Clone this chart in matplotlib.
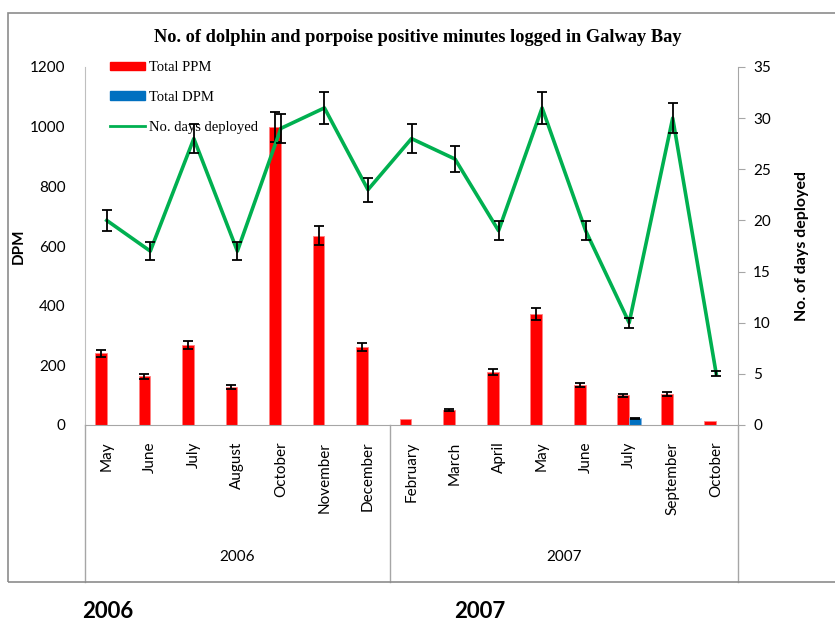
import numpy as np
import matplotlib.pyplot as plt
import matplotlib.transforms as mtransforms
from matplotlib.patches import Patch, Rectangle
from matplotlib.lines import Line2D

months = ["May", "June", "July", "August", "October", "November", "December",
          "February", "March", "April", "May", "June", "July", "September", "October"]
years = ["2006", "2007"]
year_sizes = [7, 8]

total_ppm = [240, 164, 268, 127, 1000, 635, 262, 20, 50, 178, 372, 135, 100, 104, 14]
total_dpm = [0, 0, 0, 0, 0, 0, 0, 0, 0, 0, 0, 0, 22, 0, 0]
days_deployed = [20, 17, 28, 17, 29, 31, 23, 28, 26, 19, 31, 19, 10, 30, 5]
err_pct = 0.05  # percentage error bars, as in the spreadsheet

ppm = np.array(total_ppm)
dpm = np.array(total_dpm)
days = np.array(days_deployed)
x = np.arange(len(months))

SANS = ["Lato", "DejaVu Sans"]
SERIF = ["Liberation Serif", "DejaVu Serif"]
RED = "#FF0000"
BLUE = "#0070C0"
GREEN = "#00B050"
GRID_GREY = "#A6A6A6"
ERR_KW = dict(fmt="none", ecolor="black", elinewidth=1.3, capsize=3.5, capthick=1.3)

W, H = 835, 624
fig = plt.figure(figsize=(W / 100, H / 100), dpi=100)

# plot area in pixels: left 85, right 738, top 67, bottom 425
ax = fig.add_axes([85 / W, 1 - 425 / H, (738 - 85) / W, (425 - 67) / H])
ax2 = ax.twinx()

bw = 0.27
ax.bar(x - bw / 2, ppm, bw, color=RED, edgecolor="#FF8080", linewidth=0.6)
ax.bar(x + bw / 2, dpm, bw, color=BLUE, edgecolor="#80B0E0", linewidth=0.6)
# error bars too small to see on the tiniest bars are left out
m = ppm >= 30
ax.errorbar(x[m] - bw / 2, ppm[m], yerr=ppm[m] * err_pct, **ERR_KW)
m = dpm > 0
ax.errorbar(x[m] + bw / 2, dpm[m], yerr=dpm[m] * err_pct, **ERR_KW)

ax2.plot(x, days, color=GREEN, linewidth=2.6, zorder=3)
ax2.errorbar(x, days, yerr=days * err_pct, zorder=4, **ERR_KW)

ax.set_xlim(-0.5, len(months) - 0.5)
ax.set_ylim(0, 1200)
ax.set_yticks(np.arange(0, 1201, 200))
ax2.set_ylim(0, 35)
ax2.set_yticks(np.arange(0, 36, 5))

for a in (ax, ax2):
    a.spines["top"].set_visible(False)
ax.spines["left"].set_color("#BFBFBF")
ax.spines["right"].set_visible(False)
ax.spines["bottom"].set_color(GRID_GREY)
ax2.spines["left"].set_visible(False)
ax2.spines["bottom"].set_visible(False)
ax2.spines["right"].set_color(GRID_GREY)

ax.tick_params(axis="y", length=0, pad=14, labelsize=11)
ax2.tick_params(axis="y", length=5, color=GRID_GREY, direction="out", pad=6, labelsize=11)
ax.set_xticks(x)
ax.set_xticklabels(months, rotation=90, fontsize=11, family=SANS)
ax.tick_params(axis="x", length=0, pad=12)
for lab in ax.get_yticklabels() + ax2.get_yticklabels():
    lab.set_family(SANS)

ax.set_ylabel("DPM", fontsize=11, fontweight="bold", family=SANS, labelpad=3)
ax2.set_ylabel("No. of days deployed", fontsize=11.5, fontweight="bold", family=SANS, labelpad=17)

# multi-level category axis: group separators and year labels
trans = mtransforms.blended_transform_factory(ax.transData, ax.transAxes)
bottom_y = -(582 - 425) / (425 - 67)
edges = np.concatenate([[0], np.cumsum(year_sizes)]) - 0.5
for e in edges:
    ax.plot([e, e], [0, bottom_y], transform=trans, color=GRID_GREY, linewidth=1, clip_on=False)
for i, yr in enumerate(years):
    cx = (edges[i] + edges[i + 1]) / 2
    ax.text(cx, -(557 - 425) / (425 - 67), yr, transform=trans, ha="center", va="center",
            fontsize=11, family=SANS)

# outer chart border
fig.patches.append(Rectangle((8 / W, 1 - 582 / H), 1.2, (582 - 13) / H, transform=fig.transFigure,
                             facecolor="none", edgecolor="#8C8C8C", linewidth=1.2))

fig.text(418 / W, 1 - 37 / H, "No. of dolphin and porpoise positive minutes logged in Galway Bay",
         ha="center", va="center", fontsize=13.2, fontweight="bold", family=SERIF)

handles = [Patch(facecolor=RED, edgecolor=RED), Patch(facecolor=BLUE, edgecolor=BLUE),
           Line2D([], [], color=GREEN, linewidth=2)]
ax2.legend(handles, ["Total PPM", "Total DPM", "No. days deployed"], loc="upper left",
           bbox_to_anchor=((110 - 85) / 653, (425 - 61) / 358), frameon=False,
           prop=dict(family=SERIF, size=10.5), handlelength=2.4, handleheight=0.5,
           handletextpad=0.3, labelspacing=1.15, borderpad=0, borderaxespad=0)

fig.text(108 / W, 1 - 612 / H, "2006", ha="center", va="center", fontsize=16, fontweight="bold", family=SANS)
fig.text(480 / W, 1 - 612 / H, "2007", ha="center", va="center", fontsize=16, fontweight="bold", family=SANS)

fig.savefig("out.png", dpi=100)
